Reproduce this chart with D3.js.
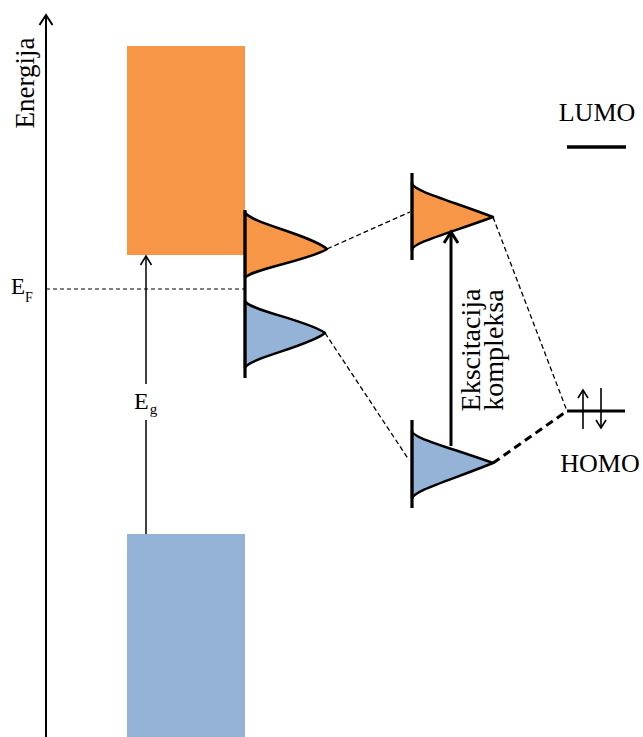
<!DOCTYPE html>
<html><head><meta charset="utf-8">
<script src="https://cdn.jsdelivr.net/npm/d3@7"></script>
<style>body{margin:0;background:#fff}svg{display:block}text{font-family:"Liberation Serif","DejaVu Serif",serif;fill:#000}</style>
</head><body><div id="c"></div>
<script>
// ---- data (energy in arbitrary units, 0 = bottom of the plot) ----
const bandNames = ["conduction", "valence"];
const bandTop = [691, 203];
const bandBottom = [482, 0];
const fermiLevel = 448;
const gapLabel = ["E", "g"];
const fermiLabel = ["E", "F"];
// surface / adsorbate density of states: [top, peak, bottom] energies and peak height
const dosNames = ["surfaceUnoccupied", "surfaceOccupied", "complexUnoccupied", "complexOccupied"];
const dosTop = [525, 436, 554, 306];
const dosPeak = [488, 404, 520, 274];
const dosBottom = [459, 369, 487, 238];
const dosHeight = [82, 80, 81, 81];
// vertical baselines of the DOS curves [upper, lower] energy
const dosLineTop = [527, 564, 317];
const dosLineBottom = [359, 477, 229];
const homoLevel = 326;
const lumoLevel = 590;
const levelLabels = ["LUMO", "HOMO"];
const axisLabel = "Energija";
const excitationLabel = ["Ekscitacija", "kompleksa"];
const excitationRange = [291, 505];

// ---- layout ----
const W = 643, H = 737;
const x = d3.scaleLinear().domain([0, W]).range([0, W]);
const y = d3.scaleLinear().domain([0, 737]).range([H, 0]);
const colors = ["#F79646", "#95B3D7"];
const axisX = 46, bandX0 = 127, bandX1 = 245, gapX = 146;
const complexX = 412, levelX0 = 567, levelX1 = 625, excX = 451;
const dosX = [bandX1, bandX1, complexX, complexX];
const lineX = [bandX1, complexX, complexX];
// bezier shape (control fractions) per curve: gaussian-like for surface, flared for complex
const shapes = [
  {a: 0.04, b: 0.28, c: 0.8, d: 0.62},
  {a: 0.04, b: 0.28, c: 0.8, d: 0.62},
  {a: 0.0, b: 0.22, c: 0.45, d: 0.5},
  {a: 0.0, b: 0.22, c: 0.45, d: 0.5}
];

const svg = d3.select("#c").append("svg").attr("width", W).attr("height", H);

// bands
svg.selectAll("rect.band").data(bandNames).join("rect")
  .attr("x", x(bandX0)).attr("width", x(bandX1) - x(bandX0))
  .attr("y", (d, i) => y(bandTop[i]))
  .attr("height", (d, i) => y(bandBottom[i]) - y(bandTop[i]))
  .attr("fill", (d, i) => colors[i]);

function chevron(g, cx, cy, dir, hw, hl, sw) {
  g.append("path").attr("d", `M${cx - hw},${cy - dir * hl} L${cx},${cy} L${cx + hw},${cy - dir * hl}`)
    .attr("fill", "none").attr("stroke", "#000").attr("stroke-width", sw)
    .attr("stroke-linejoin", "miter").attr("stroke-linecap", "butt");
}

// energy axis
svg.append("line").attr("x1", x(axisX)).attr("x2", x(axisX)).attr("y1", y(737 - 15)).attr("y2", H)
  .attr("stroke", "#000").attr("stroke-width", 2);
chevron(svg, x(axisX), 15, -1, 6.5, 10, 2);
svg.append("text").attr("transform", `translate(34,${83}) rotate(-90)`)
  .attr("text-anchor", "middle").attr("font-size", 27).text(axisLabel);

// Fermi level
svg.append("line").attr("x1", x(axisX)).attr("x2", x(bandX1)).attr("y1", y(fermiLevel)).attr("y2", y(fermiLevel))
  .attr("stroke", "#000").attr("stroke-width", 1.2).attr("stroke-dasharray", "4,3");
const ef = svg.append("text").attr("x", 11).attr("y", y(fermiLevel) + 5).attr("font-size", 23);
ef.append("tspan").text(fermiLabel[0]);
ef.append("tspan").attr("font-size", 14).attr("dy", 8).text(fermiLabel[1]);

// band gap arrow
svg.append("line").attr("x1", x(gapX)).attr("x2", x(gapX)).attr("y1", y(bandTop[1])).attr("y2", y(317))
  .attr("stroke", "#000").attr("stroke-width", 1.5);
svg.append("line").attr("x1", x(gapX)).attr("x2", x(gapX)).attr("y1", y(353)).attr("y2", y(bandBottom[0]) + 1)
  .attr("stroke", "#000").attr("stroke-width", 1.5);
chevron(svg, x(gapX), y(bandBottom[0]) + 1, -1, 5.5, 9, 1.6);
const eg = svg.append("text").attr("x", 134).attr("y", 409).attr("font-size", 24);
eg.append("tspan").text(gapLabel[0]);
eg.append("tspan").attr("font-size", 15).attr("dy", 5).attr("dx", 1).text(gapLabel[1]);

// DOS peaks
function peakPath(i) {
  const x0 = dosX[i], s = shapes[i];
  const yt = y(dosTop[i]), yp = y(dosPeak[i]), yb = y(dosBottom[i]);
  const X0 = x(x0), w = x(x0 + dosHeight[i]) - X0;
  const ht = yp - yt, hb = yb - yp;
  const p = d3.path();
  p.moveTo(X0, yt);
  p.bezierCurveTo(X0 + s.a * w, yt + s.b * ht, X0 + s.c * w, yt + s.d * ht, X0 + w, yp);
  p.bezierCurveTo(X0 + s.c * w, yb - s.d * hb, X0 + s.a * w, yb - s.b * hb, X0, yb);
  p.closePath();
  return p.toString();
}
dosNames.forEach((n, i) => {
  svg.append("path").attr("d", peakPath(i))
    .attr("fill", colors[i % 2]).attr("stroke", "#000").attr("stroke-width", 2.5).attr("stroke-linejoin", "round");
});
lineX.forEach((xx, i) => {
  svg.append("line").attr("x1", x(xx)).attr("x2", x(xx))
    .attr("y1", y(dosLineTop[i])).attr("y2", y(dosLineBottom[i]))
    .attr("stroke", "#000").attr("stroke-width", 3.2);
});

// connections
const peakPt = i => [x(dosX[i] + dosHeight[i]), y(dosPeak[i])];
const conns = [
  [peakPt(0), [x(complexX - 2), y(525)], 1.3, "5,3"],
  [peakPt(1), [x(complexX - 3), y(277)], 1.3, "5,3"],
  [peakPt(2), [x(levelX0), y(homoLevel)], 1.3, "5,3"],
  [peakPt(3), [x(levelX0), y(homoLevel)], 3, "8,5"]
];
conns.forEach(c => {
  svg.append("line").attr("x1", c[0][0]).attr("y1", c[0][1]).attr("x2", c[1][0]).attr("y2", c[1][1])
    .attr("stroke", "#000").attr("stroke-width", c[2]).attr("stroke-dasharray", c[3]);
});

// excitation arrow
svg.append("line").attr("x1", x(excX)).attr("x2", x(excX)).attr("y1", y(excitationRange[0])).attr("y2", y(excitationRange[1]) + 1)
  .attr("stroke", "#000").attr("stroke-width", 3);
chevron(svg, x(excX), y(excitationRange[1]), -1, 7, 11, 3);
const excX2 = [480, 503];
excitationLabel.forEach((t, i) => {
  svg.append("text").attr("transform", `translate(${excX2[i]},${350}) rotate(-90)`)
    .attr("text-anchor", "middle").attr("font-size", 28).text(t);
});

// molecular levels
svg.append("line").attr("x1", x(levelX0)).attr("x2", x(levelX1 + 1)).attr("y1", y(lumoLevel)).attr("y2", y(lumoLevel))
  .attr("stroke", "#000").attr("stroke-width", 3.5);
svg.append("line").attr("x1", x(levelX0)).attr("x2", x(levelX1)).attr("y1", y(homoLevel)).attr("y2", y(homoLevel))
  .attr("stroke", "#000").attr("stroke-width", 3.2);
svg.append("text").attr("x", 597).attr("y", 121).attr("text-anchor", "middle").attr("font-size", 26).text(levelLabels[0]);
svg.append("text").attr("x", 600).attr("y", 472).attr("text-anchor", "middle").attr("font-size", 26).text(levelLabels[1]);
// spin arrows
svg.append("line").attr("x1", 583).attr("x2", 583).attr("y1", y(homoLevel) + 18).attr("y2", y(homoLevel) - 21)
  .attr("stroke", "#000").attr("stroke-width", 1.6);
chevron(svg, 583, y(homoLevel) - 21, -1, 5, 8, 1.6);
svg.append("line").attr("x1", 601).attr("x2", 601).attr("y1", y(homoLevel) - 23).attr("y2", y(homoLevel) + 17)
  .attr("stroke", "#000").attr("stroke-width", 1.6);
chevron(svg, 601, y(homoLevel) + 17, 1, 5, 8, 1.6);
</script></body></html>
